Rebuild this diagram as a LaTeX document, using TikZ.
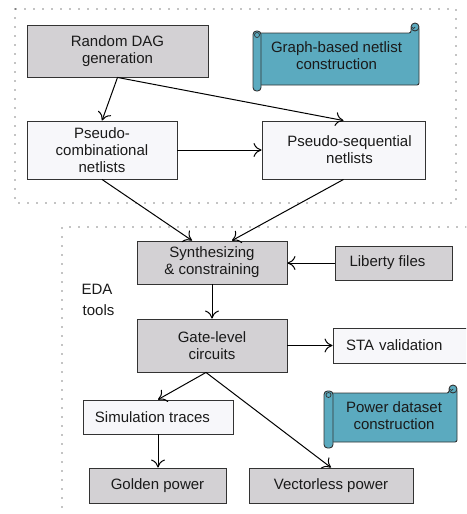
\documentclass[tikz,border=0pt]{standalone}
\usepackage{fontspec}
\setmainfont{Liberation Sans}
\usetikzlibrary{arrows.meta,calc}
\definecolor{grayfill}{HTML}{D3D1D4}
\definecolor{lightfill}{HTML}{F7F7FA}
\definecolor{tealfill}{HTML}{5BAABF}
\definecolor{boxline}{HTML}{333333}
\definecolor{txt}{HTML}{1A1A1A}
\begin{document}
\begin{tikzpicture}[x=1pt,y=-1pt,
  box/.style={draw=boxline, line width=0.9pt, inner sep=0pt, align=center, text=txt, font=\fontsize{15}{17}\selectfont},
  graybox/.style={box, fill=grayfill},
  lightbox/.style={box, fill=lightfill},
  arr/.style={draw=black, line width=1pt, -{To[length=8pt,width=14pt]}},
  dotline/.style={draw=black, line width=1.3pt, dash pattern=on 0pt off 9pt, line cap=round},
  scrollpart/.style={draw=boxline, line width=0.9pt, fill=tealfill},
  plain/.style={align=center, text=txt, inner sep=0pt, font=\fontsize{15}{17}\selectfont},
]
\useasboundingbox (0,0) rectangle (466,514);
\clip (0,0) rectangle (466,514);

% dotted frames
\draw[dotline] (15,9) rectangle (456,203);
\draw[dotline] (466,227) -- (62,227) -- (62,514);

% scroll 1
\draw[scrollpart, rounded corners=2pt] (257,33) -- (411,33) -- (411,27) -- (419,27) -- (419,85) -- (257,85) -- cycle;
\draw[scrollpart] (415,27) circle (4pt);
\draw[boxline, line width=0.7pt] (415,27) arc (0:-180:1.5pt);
\draw[scrollpart, rounded corners=3.5pt] (253,31) rectangle (261,91);
\draw[boxline, line width=0.7pt] (257,35) circle (2.5pt);
\node[plain] (s1) at (336.5,56) {Graph-based netlist\\construction};

% scroll 2
\draw[scrollpart, rounded corners=2pt] (329,393) -- (449,393) -- (449,389) -- (457,389) -- (457,442) -- (329,442) -- cycle;
\draw[scrollpart] (453,389) circle (4pt);
\draw[boxline, line width=0.7pt] (453,389) arc (0:-180:1.5pt);
\draw[scrollpart, rounded corners=3.5pt] (324,391) rectangle (333,448);
\draw[boxline, line width=0.7pt] (328.5,395) circle (2.5pt);
\node[plain] (s2) at (394,416) {Power dataset\\construction};

% nodes
\node[graybox, minimum width=181pt, minimum height=52pt] (dag) at (117.5,51) {Random DAG\\generation};
\node[lightbox, minimum width=150pt, minimum height=58pt] (comb) at (102,150) {Pseudo-\\combinational\\netlists};
\node[lightbox, minimum width=163pt, minimum height=58pt] (seq) at (343.5,150) {\hspace{12pt}Pseudo-sequential\\\hspace{12pt}netlists};
\node[graybox, minimum width=150pt, minimum height=43pt] (synth) at (212,262.5) {Synthesizing\\\& constraining};
\node[graybox, minimum width=117pt, minimum height=34pt] (lib) at (393.5,263) {Liberty files\hspace{12pt}};
\node[plain] (eda) at (97,300) {EDA\\[4pt]\hspace{3pt}tools};
\node[graybox, minimum width=150pt, minimum height=53pt] (gate) at (212,345.5) {Gate-level\\circuits};
\node[lightbox, minimum width=140pt, minimum height=35pt, text width=114pt, align=left] (sta) at (403,345.5) {STA validation};
\node[lightbox, minimum width=150pt, minimum height=34pt] (sim) at (158,417) {Simulation traces\hspace{11pt}};
\node[graybox, minimum width=137pt, minimum height=35pt] (golden) at (157.5,485.5) {Golden power};
\node[graybox, minimum width=164pt, minimum height=35pt] (vect) at (331,485.5) {Vectorless power};

% connectors
\draw[arr] (dag.south) -- (comb.north);
\draw[arr] (dag.south) -- (seq.north);
\draw[arr] (comb.east) -- (seq.west);
\draw[arr] (comb.south) -- ([xshift=-20pt]synth.north);
\draw[arr] (seq.south) -- ([xshift=20pt]synth.north);
\draw[arr] (lib.west) -- (lib.west -| synth.east);
\draw[arr] (synth.south) -- (gate.north);
\draw[arr] (gate.east) -- (gate.east -| sta.west);
\draw[arr] ([xshift=-6pt]gate.south) -- (sim.north);
\draw[arr] ([xshift=-6pt]gate.south) -- (vect.north);
\draw[arr] (sim.south) -- (sim.south |- golden.north);
\end{tikzpicture}
\end{document}
